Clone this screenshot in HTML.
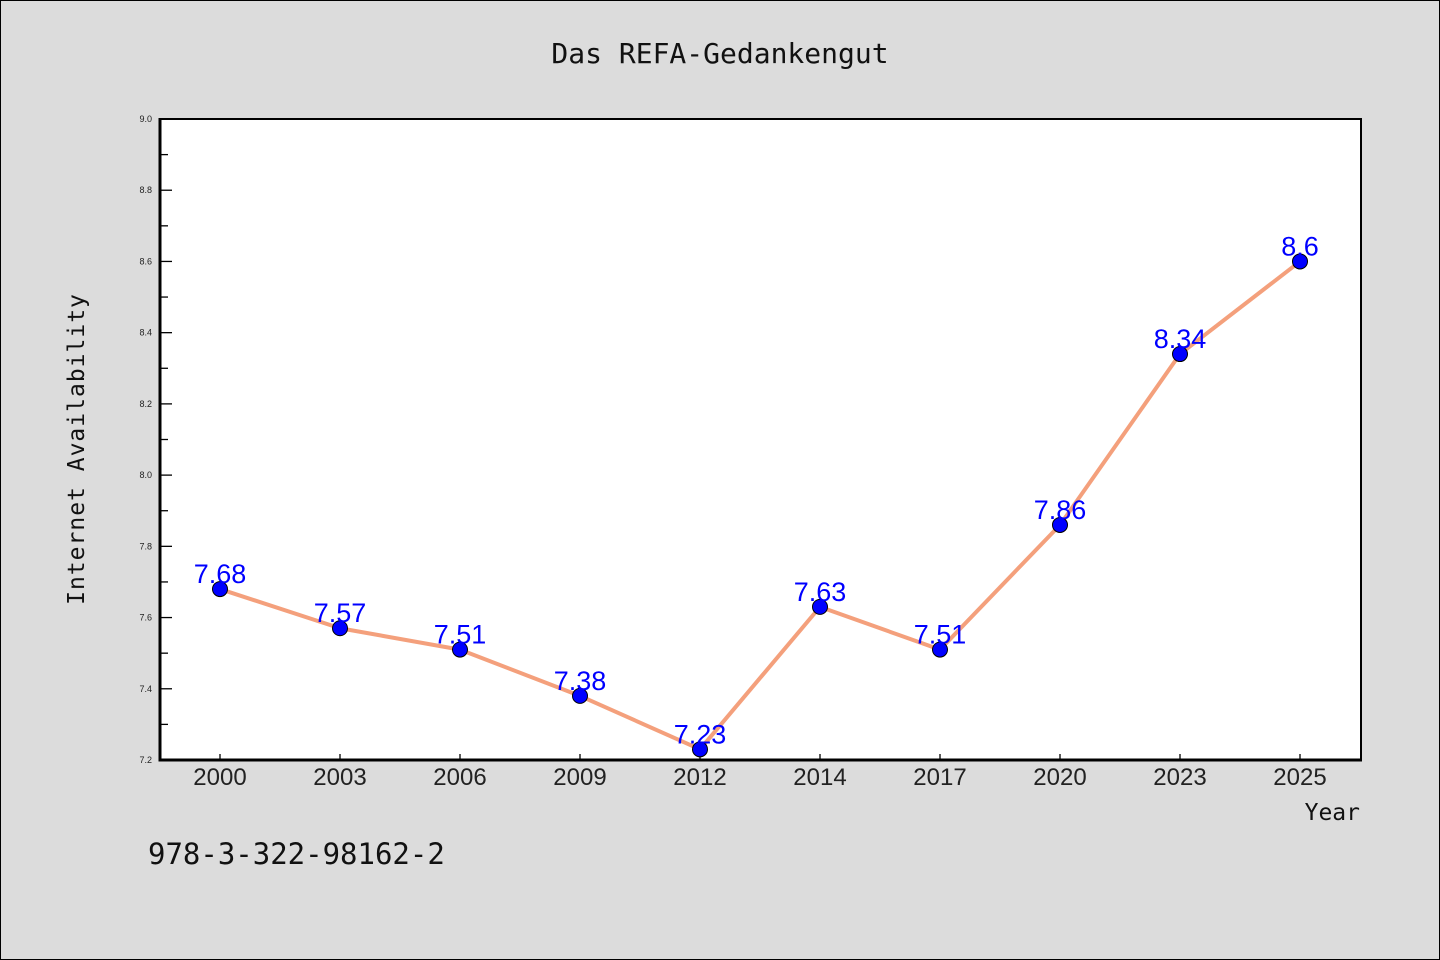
<!DOCTYPE html>
<html><head><meta charset="utf-8"><style>
body{margin:0;background:#dcdcdc}
svg{display:block}
</style></head><body>
<svg id="chart" width="1440" height="960" xmlns="http://www.w3.org/2000/svg">
<rect x="0.5" y="0.5" width="1439" height="959" fill="#dcdcdc" stroke="#000"/>
<text x="720" y="63" text-anchor="middle" font-family="'DejaVu Sans Mono','Liberation Mono',monospace" font-size="28" fill="#111">Das REFA-Gedankengut</text>
<rect x="160" y="119" width="1201" height="641" fill="#fff" stroke="#000" stroke-width="2"/>
<g id="yaxis"></g>
<g id="xaxis"></g>
<g id="series"></g>
<line x1="160" y1="118" x2="160" y2="761.5" stroke="#000" stroke-width="3"/>
<line x1="158.5" y1="760" x2="1362" y2="760" stroke="#000" stroke-width="3"/>
<text transform="translate(84,449) rotate(-90)" text-anchor="middle" font-family="'DejaVu Sans Mono','Liberation Mono',monospace" font-size="23" letter-spacing="1" fill="#111">Internet Availability</text>
<text x="1360" y="820" text-anchor="end" font-family="'DejaVu Sans Mono','Liberation Mono',monospace" font-size="23" fill="#111">Year</text>
<text x="148" y="864" font-family="'DejaVu Sans Mono','Liberation Mono',monospace" font-size="29" fill="#111">978-3-322-98162-2</text>
</svg>
<script>
const categories=["2000","2003","2006","2009","2012","2014","2017","2020","2023","2025"];
const values=[7.68,7.57,7.51,7.38,7.23,7.63,7.51,7.86,8.34,8.6];
const yTicks=[7.2,7.4,7.6,7.8,8.0,8.2,8.4,8.6,8.8,9.0];
const yMin=7.2,yMax=9.0,pTop=119,pBottom=760,pLeft=160,pRight=1361;
const NS="http://www.w3.org/2000/svg";
function yS(v){return pBottom-(v-yMin)/(yMax-yMin)*(pBottom-pTop);}
function xS(i){return 220+i*120;}
function mk(tag,attrs,parent,txt){const e=document.createElementNS(NS,tag);for(const k in attrs)e.setAttribute(k,attrs[k]);if(txt!==undefined)e.textContent=txt;parent.appendChild(e);return e;}
const ya=document.getElementById('yaxis'),xa=document.getElementById('xaxis'),sg=document.getElementById('series');
yTicks.forEach(t=>{
  const tl=mk('line',{x1:pLeft,x2:pLeft+12,y1:yS(t),y2:yS(t),stroke:'#000','stroke-width':1.3},ya);
  
  
  const tx=mk('text',{x:152,y:yS(t)+3,'text-anchor':'end','font-family':'Liberation Sans,sans-serif','font-size':9,fill:'#222'},ya,t.toFixed(1));
  
  
  if(t<yMax){const m=mk('line',{x1:pLeft,x2:pLeft+8,y1:yS(t+0.1),y2:yS(t+0.1),stroke:'#000','stroke-width':1.3},ya);
  
  }
});
categories.forEach((c,i)=>{
  const tl=mk('line',{x1:xS(i),x2:xS(i),y1:pBottom,y2:pBottom-6,stroke:'#000','stroke-width':1.3},xa);
  
  
  const tx=mk('text',{x:xS(i),y:785,'text-anchor':'middle','font-family':'Liberation Sans,sans-serif','font-size':24,fill:'#222'},xa,c);
  
  
});
const pl=mk('polyline',{points:values.map((v,i)=>xS(i)+','+yS(v)).join(' '),fill:'none',stroke:'#f4a07c','stroke-width':4,'stroke-linejoin':'round'},sg);


values.forEach((v,i)=>{
  const c=mk('circle',{cx:xS(i),cy:yS(v),r:7.5,fill:'#0000ff',stroke:'#000','stroke-width':1},sg);
  
  
  const t=mk('text',{x:xS(i),y:yS(v)-6,'text-anchor':'middle','font-family':'Liberation Sans,sans-serif','font-size':27,fill:'#0000ff'},sg,String(v));
  
  
});
</script>
</body></html>
